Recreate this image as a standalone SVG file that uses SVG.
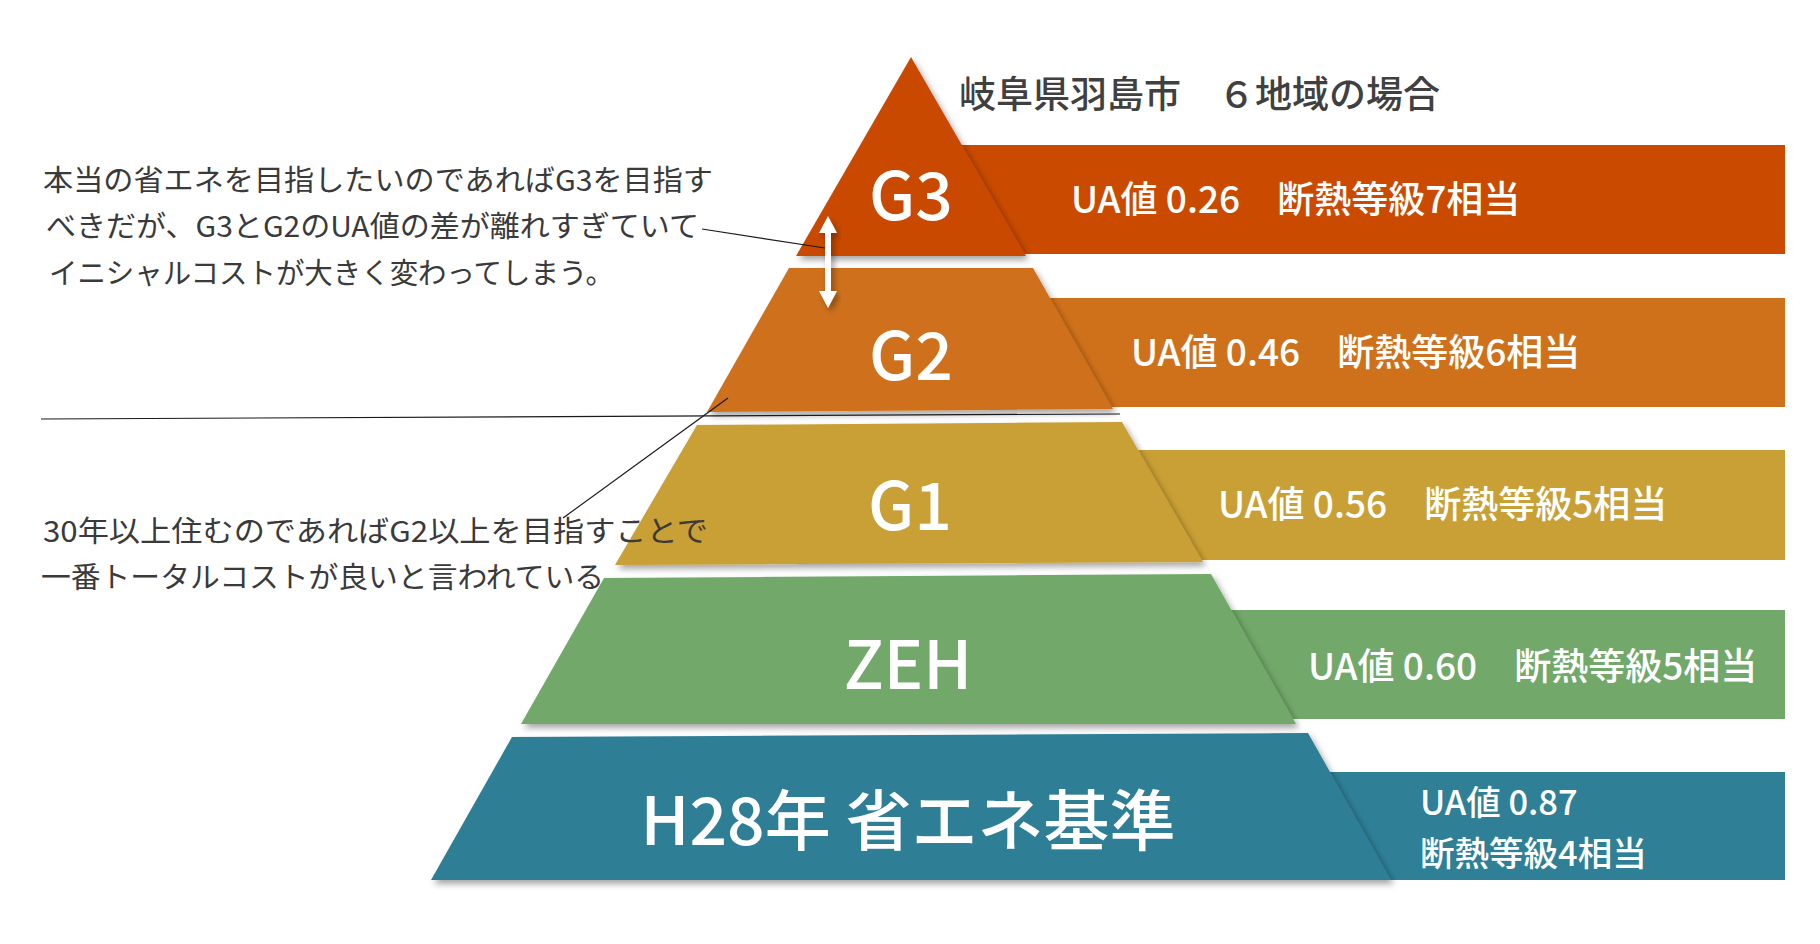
<svg xmlns="http://www.w3.org/2000/svg" width="1820" height="944" viewBox="0 0 1820 944">
<defs>
<style>
.lbl{font-family:"Noto Sans CJK JP","Noto Sans",sans-serif;font-weight:500;fill:#fff;font-size:66px;text-anchor:middle}
.band{font-family:"Noto Sans CJK JP","Noto Sans",sans-serif;font-weight:500;fill:#fff;font-size:37px}
.band2{font-family:"Noto Sans CJK JP","Noto Sans",sans-serif;font-weight:500;fill:#fff;font-size:34.5px}
.title{font-family:"Noto Sans CJK JP",sans-serif;font-weight:500;fill:#404040;font-size:37px}
.note{font-family:"Noto Sans CJK JP",sans-serif;font-weight:400;fill:#3a3a3a;font-size:29px}
.ln{stroke:#1a1a1a;stroke-width:1.2;fill:none}
</style>
<filter id="sh" x="-10%" y="-10%" width="130%" height="130%">
<feDropShadow dx="3" dy="4" stdDeviation="3" flood-color="#000" flood-opacity="0.35"/>
</filter>
</defs>
<rect width="1820" height="944" fill="#fff"/>

<g id="title"><text class="title" x="959" y="108">岐阜県羽島市　６地域の場合</text></g>

<g id="bands">
<rect x="940" y="145" width="845" height="109" fill="#CA4A00"/>
<rect x="1040" y="298" width="745" height="109" fill="#CF711A"/>
<rect x="1120" y="450" width="665" height="110" fill="#C9A035"/>
<rect x="1215" y="610" width="570" height="109" fill="#72A86A"/>
<rect x="1310" y="772" width="475" height="108" fill="#2F7F96"/>
</g>

<g id="layer-g3">
<polygon points="911,57 1026,256 796,256" fill="#CA4A00" filter="url(#sh)"/>
<text class="lbl" x="911" y="220">G3</text>
<text class="band" x="1071" y="213">UA値 0.26　断熱等級7相当</text>
</g>
<g id="layer-g2">
<polygon points="789,268 1033,268 1113,409 707,412" fill="#CF711A" filter="url(#sh)"/>
<text class="lbl" x="911" y="380">G2</text>
<text class="band" x="1131" y="366">UA値 0.46　断熱等級6相当</text>
</g>
<g id="layer-g1">
<polygon points="697,425 1122,422 1203,562 615,565" fill="#C9A035" filter="url(#sh)"/>
<text class="lbl" x="910" y="530">G1</text>
<text class="band" x="1218" y="518">UA値 0.56　断熱等級5相当</text>
</g>
<g id="layer-zeh">
<polygon points="604,578 1211,574 1296,724 521,724" fill="#72A86A" filter="url(#sh)"/>
<text class="lbl" x="908" y="689">ZEH</text>
<text class="band" x="1308" y="680">UA値 0.60　断熱等級5相当</text>
</g>
<g id="layer-h28">
<polygon points="512,737 1308,733 1391,880 431,880" fill="#2F7F96" filter="url(#sh)"/>
<text class="lbl" x="908" y="845">H28年 省エネ基準</text>
<text class="band2" x="1420" y="815">UA値 0.87</text>
<text class="band2" x="1420" y="866">断熱等級4相当</text>
</g>

<g id="arrow" filter="url(#sh)">
<polygon points="828,216 837,233 831,233 831,291 837,291 828,308 819,291 825,291 825,233 819,233" fill="#fff"/>
</g>

<g id="note-top">
<text class="note" x="43" y="191" textLength="670" lengthAdjust="spacingAndGlyphs">本当の省エネを目指したいのであればG3を目指す</text>
<text class="note" x="46" y="237" textLength="653" lengthAdjust="spacingAndGlyphs">べきだが、G3とG2のUA値の差が離れすぎていて</text>
<text class="note" x="49" y="284" textLength="565" lengthAdjust="spacingAndGlyphs">イニシャルコストが大きく変わってしまう。</text>
</g>
<g id="note-bottom">
<text class="note" x="43" y="542" textLength="665" lengthAdjust="spacingAndGlyphs">30年以上住むのであればG2以上を目指すことで</text>
<text class="note" x="41" y="588" textLength="563" lengthAdjust="spacingAndGlyphs">一番トータルコストが良いと言われている</text>
</g>

<g id="connectors">
<line class="ln" x1="702" y1="229" x2="825" y2="248"/>
<line class="ln" x1="728" y1="398" x2="563" y2="518"/>
<line class="ln" x1="41" y1="419" x2="1120" y2="414"/>
</g>
</svg>
